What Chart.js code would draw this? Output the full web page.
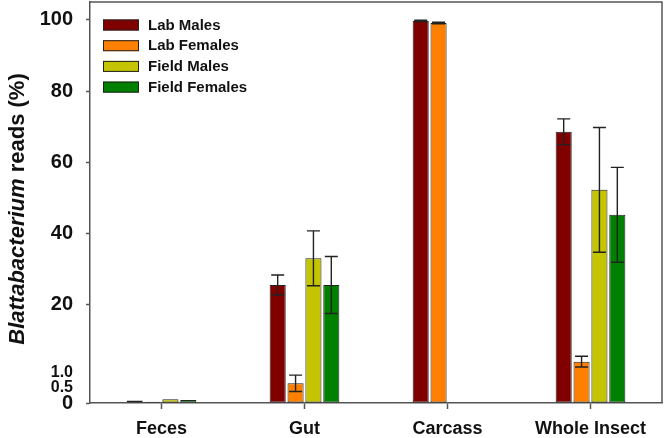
<!DOCTYPE html>
<html>
<head>
<meta charset="utf-8">
<script src="https://cdn.jsdelivr.net/npm/chart.js@4/dist/chart.umd.min.js"></script>
<style>
  html, body { margin: 0; padding: 0; background: #fff; }
  #wrap { width: 666px; height: 438px; }
</style>
</head>
<body>
<div id="wrap"><canvas id="chart"></canvas></div>
<script>
// data
const categories = ['Feces', 'Gut', 'Carcass', 'Whole Insect'];
const seriesNames = ['Lab Males', 'Lab Females', 'Field Males', 'Field Females'];
const seriesColors = ['#800000', '#ff8000', '#c4c400', '#008000'];

const labMales = [0.08, 25.6, 99.7, 68.6];
const labFemales = [0.04, 0.65, 99.1, 4.1];
const fieldMales = [0.12, 33.1, 0, 52.3];
const fieldFemales = [0.1, 25.6, 0, 45.3];

const labMalesErr = [0, 2.8, 0.2, 3.6];
const labFemalesErr = [0, 0.27, 0.2, 1.5];
const fieldMalesErr = [0, 7.7, 0, 17.5];
const fieldFemalesErr = [0, 8.0, 0, 13.3];

const yTicks = [0, 0.5, 1, 20, 40, 60, 80, 100];
const yTickLabels = ['0', '0.5', '1.0', '20', '40', '60', '80', '100'];

// the axis below 1.0 is stretched
const BREAK = 1, STRETCH = 8.5;
function fwd(v) { return v <= BREAK ? v * STRETCH : BREAK * STRETCH + (v - BREAK); }
function inv(t) { return t <= BREAK * STRETCH ? t / STRETCH : t - BREAK * STRETCH + BREAK; }

class BrokenScale extends Chart.LinearScale {
  getPixelForValue(v) {
    if (v === null || v === undefined) return NaN;
    const a = fwd(this.min), b = fwd(this.max);
    return this.getPixelForDecimal((fwd(v) - a) / (b - a));
  }
  getValueForPixel(p) {
    const a = fwd(this.min), b = fwd(this.max);
    return inv(a + this.getDecimalForPixel(p) * (b - a));
  }
  buildTicks() {
    return yTicks.map(v => ({ value: v }));
  }
}
BrokenScale.id = 'broken';
BrokenScale.defaults = Chart.LinearScale.defaults;
Chart.register(BrokenScale);

const FONT = "'Liberation Sans', Arial, sans-serif";
const AXIS = '#555';
const small = v => v === 0.5 || v === 1;

const values = [labMales, labFemales, fieldMales, fieldFemales];
const errors = [labMalesErr, labFemalesErr, fieldMalesErr, fieldFemalesErr];

// error bars
const errorBars = {
  id: 'errorBars',
  afterDatasetsDraw(chart) {
    const c = chart.ctx, y = chart.scales.y;
    c.save();
    c.strokeStyle = '#222';
    c.lineWidth = 1.4;
    chart.data.datasets.forEach((ds, i) => {
      chart.getDatasetMeta(i).data.forEach((bar, j) => {
        const e = errors[i][j], v = values[i][j];
        if (!e) return;
        const top = y.getPixelForValue(v + e);
        const bot = y.getPixelForValue(Math.max(0, v - e));
        c.beginPath();
        c.moveTo(bar.x, top); c.lineTo(bar.x, bot);
        c.moveTo(bar.x - 6.5, top); c.lineTo(bar.x + 6.5, top);
        c.moveTo(bar.x - 6.5, bot); c.lineTo(bar.x + 6.5, bot);
        c.stroke();
      });
    });
    c.restore();
  }
};

// frame, legend and y title
const decorations = {
  id: 'decorations',
  afterDraw(chart) {
    const c = chart.ctx, a = chart.chartArea;
    c.save();
    c.strokeStyle = AXIS;
    c.lineWidth = 1.5;
    c.beginPath();
    c.moveTo(a.left, a.top); c.lineTo(a.right, a.top); c.lineTo(a.right, a.bottom);
    c.stroke();

    // legend
    c.font = 'bold 15px ' + FONT;
    c.textBaseline = 'middle';
    seriesNames.forEach((name, i) => {
      const yy = 19.5 + i * 20.7;
      c.fillStyle = seriesColors[i];
      c.fillRect(103, yy, 36, 11);
      c.strokeStyle = '#222';
      c.lineWidth = 1;
      c.strokeRect(103.5, yy + 0.5, 35, 10);
      c.fillStyle = '#111';
      c.fillText(name, 148, yy + 6);
    });

    // y title, genus in italics
    c.translate(17.5, 209);
    c.rotate(-Math.PI / 2);
    const p1 = 'Blattabacterium', p2 = ' reads (%)';
    c.font = 'italic bold 22px ' + FONT;
    const w1 = c.measureText(p1).width;
    c.font = 'bold 22px ' + FONT;
    const w2 = c.measureText(p2).width;
    const x0 = -(w1 + w2) / 2;
    c.fillStyle = '#111';
    c.textBaseline = 'middle';
    c.font = 'italic bold 22px ' + FONT;
    c.fillText(p1, x0, 0);
    c.font = 'bold 22px ' + FONT;
    c.fillText(p2, x0 + w1, 0);
    c.restore();
  }
};

new Chart(document.getElementById('chart'), {
  type: 'bar',
  data: {
    labels: categories,
    datasets: seriesNames.map((name, i) => ({
      label: name,
      data: values[i],
      backgroundColor: seriesColors[i],
      borderColor: '#222',
      borderWidth: 1,
      borderSkipped: false,
      categoryPercentage: 0.5,
      barPercentage: 0.9
    }))
  },
  options: {
    responsive: true,
    maintainAspectRatio: false,
    animation: false,
    layout: { padding: { top: 2, right: 4, left: 0, bottom: 0 } },
    plugins: { legend: { display: false }, tooltip: { enabled: false } },
    scales: {
      x: {
        offset: true,
        afterFit: s => { s.height = 35; s.paddingLeft = 0; s.paddingRight = 0; },
        border: { color: AXIS, width: 1.5 },
        grid: { offset: false, drawOnChartArea: false, tickLength: 6, color: AXIS, tickColor: AXIS, tickWidth: 1.5 },
        ticks: { color: '#111', font: { family: FONT, size: 18, weight: 'bold' }, padding: 9, maxRotation: 0 }
      },
      y: {
        type: 'broken',
        min: 0,
        max: 105,
        afterFit: s => { s.width = 90; s.paddingTop = 0; s.paddingBottom = 0; },
        border: { color: AXIS, width: 1.5 },
        grid: {
          drawOnChartArea: false,
          tickLength: 4,
          tickWidth: 1.5,
          tickColor: ctx => (ctx.tick && small(ctx.tick.value)) ? 'rgba(0,0,0,0)' : AXIS
        },
        ticks: {
          color: '#111',
          padding: 13,
          autoSkip: false,
          font: ctx => ({
            family: FONT, weight: 'bold',
            size: (ctx.tick && small(ctx.tick.value)) ? 16 : 20
          }),
          callback: (v, i) => yTickLabels[i]
        }
      }
    }
  },
  plugins: [errorBars, decorations]
});
</script>
</body>
</html>
